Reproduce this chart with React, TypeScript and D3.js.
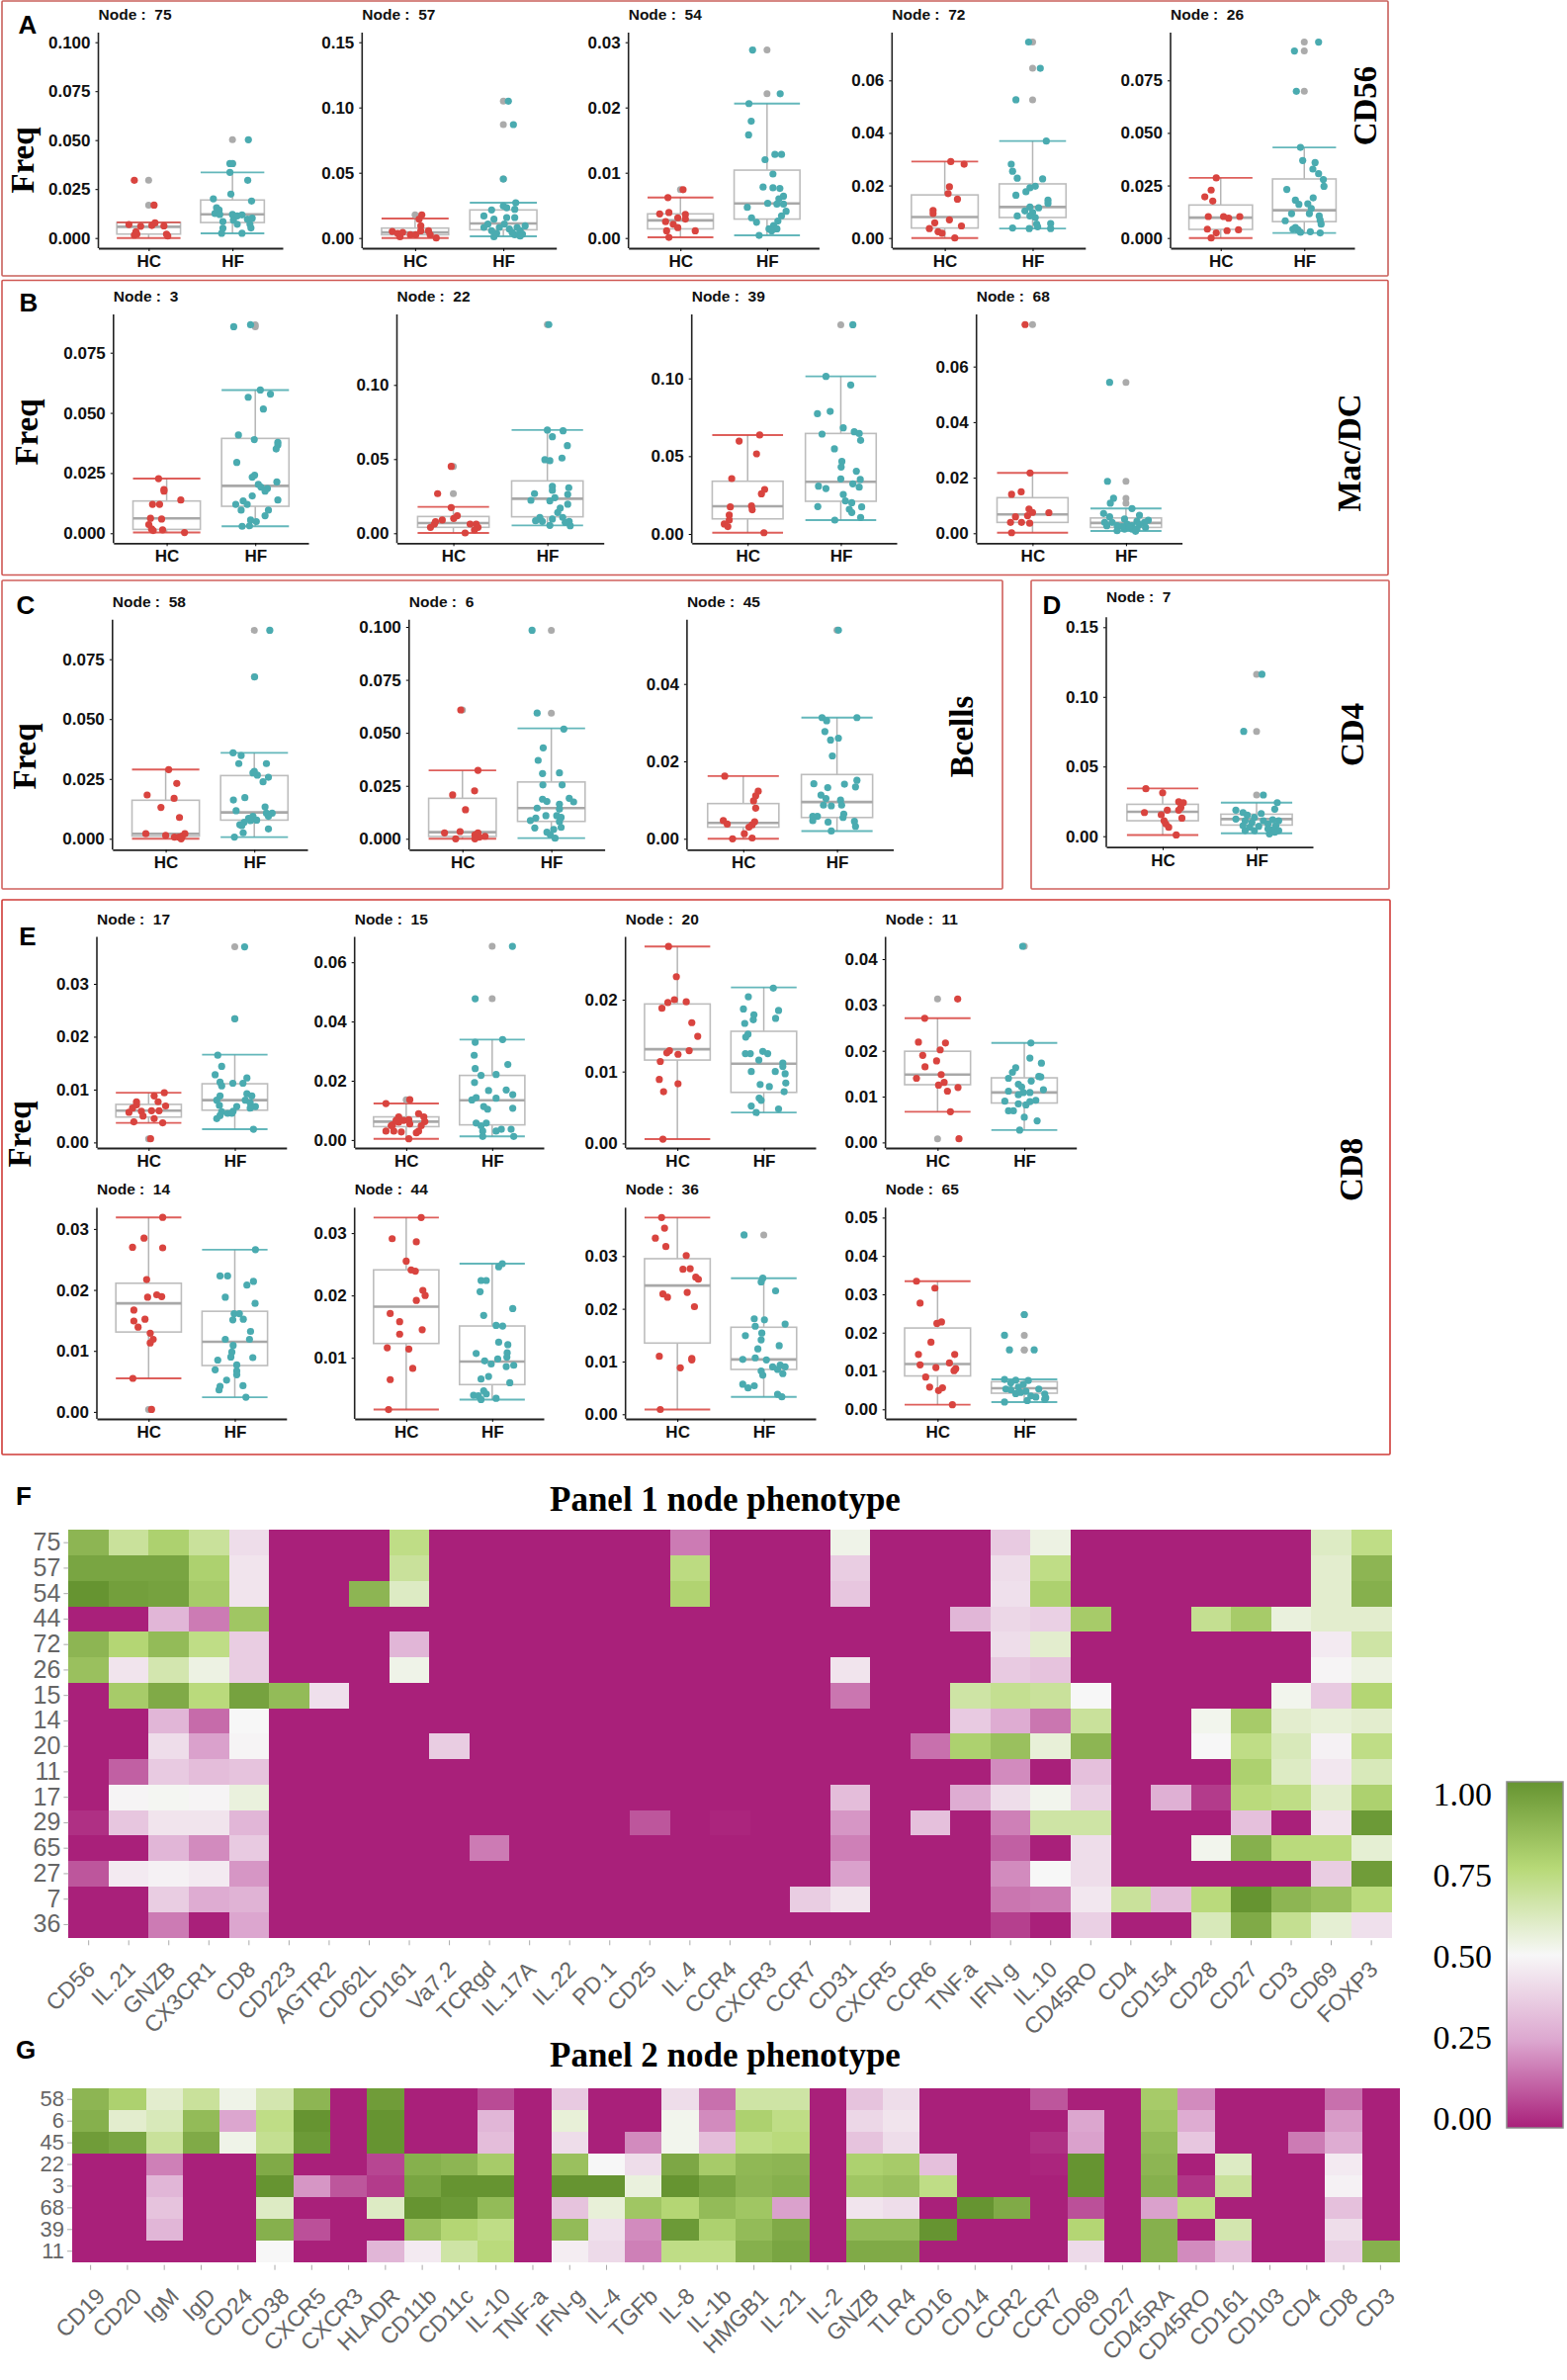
import { useEffect, useRef } from 'react';
import * as d3 from 'd3';

type Pt = [number, number]; // [jitter, freq]

const groups = ['HC', 'HF'];

// box stats are [lower whisker, q1, median, q3, upper whisker]
const n75Box = [[0, .002, .0057, .0079, .008], [.0024, .0079, .0121, .0194, .0335]];
const n75HC: Pt[] = [[-.45,.0295],[.17,.0168],[-.62,.0069],[-.25,.006],[.1,.0064],[.2,.0077],[.48,.0062],[-.4,.0032],[-.45,.0015],[.56,.002],[.6,.001],[-.37,.002]];
const n75HF: Pt[] = [[.5,.0502],[-.08,.038],[0,.038],[-.08,.0335],[.48,.0295],[-.05,.0224],[-.6,.02],[.6,.0189],[-.5,.0155],[-.42,.0143],[-.55,.0125],[-.4,.012],[0,.012],[.15,.0113],[.3,.0118],[.03,.0091],[.47,.0096],[.62,.0101],[.58,.0051],[-.3,.0084],[-.3,.005],[-.34,.0024],[.3,.0024],[.55,.0071],[.15,.007]];

const n57Box = [[0, .0025, .0043, .0076, .0149], [.0013, .0063, .0111, .0215, .027]];
const n57HC: Pt[] = [[.2,.0177],[.12,.0144],[.17,.0093],[-.68,.005],[-.52,.0035],[-.45,.001],[-.37,.0043],[-.14,.0025],[.02,.0025],[.17,.0055],[.4,.0055],[.45,.0025],[.63,0]];
const n57HF: Pt[] = [[.15,.1048],[.3,.0869],[0,.0452],[.37,.027],[0,.0245],[.1,.0232],[-.35,.0215],[-.58,.0169],[.34,.022],[.1,.0157],[.34,.0157],[-.28,.0144],[-.46,.0106],[-.58,.0081],[.03,.0106],[.65,.0093],[.41,.0081],[-.12,.0081],[.18,.0068],[-.35,.0056],[.5,.0056],[.57,.003],[-.2,.0035],[-.28,.001],[.34,.0025],[.5,.0015],[.26,.0043]];

const n54Box = [[.0001, .0014, .0027, .0037, .0062], [.0004, .0029, .0053, .0104, .0206]];
const n54HC: Pt[] = [[.08,.0074],[-.38,.0062],[-.63,.0037],[-.35,.0039],[.15,.0036],[-.08,.0031],[-.45,.0025],[.15,.0029],[-.22,.0021],[-.08,.0016],[.45,.0011],[-.42,.0011],[-.35,.0001]];
const n54HF: Pt[] = [[-.44,.0288],[.4,.0221],[-.55,.0206],[-.48,.0179],[-.56,.0158],[-.06,.012],[.24,.0128],[.44,.0128],[.18,.0098],[-.12,.0078],[.18,.0077],[.39,.0076],[-.6,.0047],[.5,.0064],[.36,.006],[.02,.0053],[.3,.0052],[.5,.0052],[.58,.0041],[.44,.0034],[-.47,.0031],[-.32,.0024],[.33,.0026],[.2,.0019],[.06,.0014],[.3,.0014],[-.24,.0004],[.14,.0011]];

const n72Box = [[0, .0038, .008, .0164, .0291], [.0036, .0078, .0118, .0206, .0369]];
const n72HC: Pt[] = [[.18,.0291],[.58,.0281],[.14,.0195],[.1,.0169],[.38,.0148],[-.35,.0105],[-.35,.0093],[.14,.0069],[-.3,.0058],[.5,.0046],[-.46,.0036],[-.2,.0024],[-.08,.0018],[.3,0]];
const n72HF: Pt[] = [[-.12,.0746],[.23,.0646],[-.5,.0526],[.41,.0369],[-.64,.0281],[-.6,.0254],[-.46,.0228],[.3,.0225],[.08,.0197],[-.08,.0191],[-.2,.0176],[-.5,.0163],[.46,.0144],[.46,.0132],[.18,.0115],[-.08,.0118],[-.23,.0103],[0,.0097],[-.46,.0084],[-.08,.0084],[.08,.0078],[.12,.0053],[.54,.0055],[.54,.0036],[-.6,.0038],[-.1,.0036],[.15,.0043]];

const n26Box = [[0, .0041, .0097, .0157, .0286], [.0024, .0078, .0132, .0281, .0431]];
const n26HC: Pt[] = [[-.14,.0286],[-.3,.0228],[-.5,.0196],[-.25,.0176],[-.39,.0102],[.09,.0102],[.25,.0094],[.6,.0102],[-.42,.0042],[.2,.0035],[.56,.0039],[-.14,.0024],[-.3,0]];
const n26HF: Pt[] = [[.45,.0932],[-.31,.089],[-.25,.0698],[-.12,.0431],[-.05,.0369],[.34,.0359],[.27,.0328],[.45,.0306],[.6,.0278],[.62,.0246],[-.55,.0231],[.28,.0191],[-.28,.018],[-.17,.016],[.11,.0163],[.22,.0141],[-.4,.0116],[.16,.0116],[.47,.0105],[-.6,.0082],[.5,.0085],[.53,.0066],[-.28,.005],[-.2,.0039],[-.36,.0042],[-.12,.0027],[.19,.003],[.5,.0024]];

const n3Box = [[.0003, .0016, .0062, .0134, .0227], [.0029, .0112, .0197, .0394, .0595]];
const n3HC: Pt[] = [[-.24,.0227],[-.08,.0182],[-.08,.0175],[.42,.0138],[-.42,.012],[-.21,.012],[-.48,.0062],[-.15,.0059],[-.53,.0036],[-.45,.0018],[-.12,.0014],[.53,.0003],[-.4,.0011]];
const n3HF: Pt[] = [[-.64,.0858],[-.14,.0866],[.15,.0595],[.45,.0578],[-.21,.0565],[.24,.0516],[-.5,.0408],[-.03,.0389],[.67,.0378],[.67,.0367],[.62,.035],[-.55,.0294],[-.02,.0241],[-.09,.0233],[.64,.0213],[.09,.0203],[.17,.0192],[.36,.0186],[.29,.0175],[-.09,.0155],[.67,.0138],[-.36,.0134],[-.58,.012],[-.24,.012],[-.42,.0096],[.39,.0096],[.29,.0073],[-.14,.0055],[.03,.0048],[-.39,.0029],[-.17,.0031]];

const n22Box = [[.0002, .004, .0069, .0113, .0178], [.0053, .0111, .0233, .0353, .0696]];
const n22HC: Pt[] = [[-.06,.0451],[-.44,.0267],[-.06,.0173],[.11,.0118],[.01,.01],[-.31,.0089],[-.5,.0078],[-.64,.004],[.47,.0062],[.64,.0062],[.69,.004],[.59,.0022],[.33,.0002],[-.53,.0062]];
const n22HF: Pt[] = [[.04,.1407],[0,.0696],[.44,.0691],[.14,.0651],[.56,.0591],[-.07,.0496],[.07,.0489],[.41,.0507],[.14,.0316],[.14,.0289],[.6,.0307],[-.36,.0267],[.57,.0262],[.21,.024],[-.46,.0222],[.07,.0218],[.57,.0196],[.36,.0169],[.29,.014],[-.21,.0107],[.14,.0096],[.43,.0107],[-.33,.0084],[-.14,.008],[.61,.008],[.07,.0053],[.64,.0051],[.5,.0073]];

const n39Box = [[.0008, .0097, .0178, .0339, .0636], [.0089, .021, .0335, .0646, .1013]];
const n39HC: Pt[] = [[.34,.0636],[-.24,.0597],[.25,.0515],[-.45,.0356],[.48,.0286],[.39,.0258],[-.49,.0174],[.11,.018],[.13,.0155],[-.52,.0121],[-.52,.0089],[-.66,.0064],[-.56,.0047],[.46,.0008]];
const n39HF: Pt[] = [[.34,.1345],[-.42,.1013],[.28,.0958],[-.3,.0788],[-.66,.0773],[.07,.0682],[.38,.0657],[.52,.0646],[-.53,.0642],[.56,.0602],[-.18,.0547],[.03,.0466],[.01,.043],[.44,.0403],[0,.0354],[.55,.035],[.34,.0322],[-.63,.0307],[-.42,.0292],[.52,.0301],[.07,.0254],[.13,.0212],[.31,.0201],[-.65,.0176],[.59,.0174],[.24,.0159],[.31,.0138],[.56,.0106],[-.17,.0089]];

const n68Box = [[.0002, .0039, .0068, .0128, .0217], [.0008, .0021, .0037, .0055, .0089]];
const n68HC: Pt[] = [[-.21,.0751],[-.07,.0217],[-.32,.0149],[-.59,.014],[-.1,.0087],[0,.0075],[.46,.0074],[-.14,.0063],[-.48,.0059],[-.62,.0039],[-.31,.0039],[-.08,.0036],[-.59,.0002]];
const n68HF: Pt[] = [[-.46,.0543],[-.52,.0187],[-.35,.0126],[-.44,.0108],[.17,.0089],[-.63,.0071],[.38,.0065],[-.46,.0059],[-.04,.0051],[.63,.0047],[-.6,.0039],[-.39,.0039],[.31,.0043],[.52,.0039],[-.54,.0027],[-.25,.0027],[.03,.0033],[.17,.0027],[.38,.0031],[.55,.0021],[-.25,.0009],[-.04,.0015],[.17,.0015],[.27,.0007],[-.11,.0024],[.31,.0015],[.1,.0021]];

const n58Box = [[0, .0011, .0021, .0161, .0289], [.0007, .0078, .011, .0264, .0359]];
const n58HC: Pt[] = [[.09,.0289],[.33,.0231],[-.55,.0183],[.25,.0169],[-.14,.0131],[.41,.0089],[-.59,.0021],[0,.0014],[.57,.0021],[.26,.0007],[.39,.0007],[.49,.0011],[.46,0]];
const n58HF: Pt[] = [[.46,.0871],[.01,.0676],[-.63,.0359],[-.39,.0348],[-.46,.0314],[.36,.0314],[-.04,.0275],[.09,.0266],[0,.0282],[.42,.0257],[.26,.0238],[-.62,.0162],[-.28,.0172],[.32,.0133],[-.54,.0117],[.36,.0107],[.53,.0107],[.42,.0094],[-.04,.0094],[-.17,.0085],[.07,.0078],[-.11,.0076],[-.3,.0069],[-.43,.0059],[.42,.0041],[-.33,.0025],[-.59,.0007],[-.37,.0055]];

const n6Box = [[0, .0011, .0031, .0191, .0323], [.0003, .0082, .0145, .0268, .0521]];
const n6HC: Pt[] = [[-.05,.0608],[.46,.0323],[.36,.0226],[-.29,.0207],[.09,.0137],[-.53,.0028],[-.07,.0034],[.46,.0028],[.37,.0019],[.67,.0012],[-.2,0],[.5,.0008],[.37,0]];
const n6HF: Pt[] = [[-.57,.0984],[-.42,.0593],[.37,.0518],[-.24,.0429],[-.39,.037],[-.26,.0308],[.24,.0311],[-.25,.0254],[.32,.0254],[-.26,.0187],[-.13,.0176],[.53,.0191],[.66,.0174],[.24,.0163],[-.42,.0145],[.24,.014],[-.16,.0109],[-.46,.0098],[-.62,.0086],[.16,.0109],[.29,.0101],[.24,.0081],[.29,.0054],[-.49,.0051],[.07,.0044],[-.13,.0031],[-.03,.0019],[.11,.0003]];

const n45Box = [[0, .003, .0041, .0091, .0162], [.002, .0055, .0095, .0166, .0313]];
const n45HC: Pt[] = [[-.52,.0162],[.42,.0123],[.35,.0111],[.29,.0098],[.35,.0079],[-.56,.0047],[-.45,.0038],[.32,.0044],[.25,.0036],[.16,.003],[.03,.0013],[-.3,0],[.25,.0002]];
const n45HF: Pt[] = [[.04,.0539],[-.42,.0313],[.56,.0313],[-.29,.0305],[-.34,.0277],[.04,.026],[-.18,.0255],[-.13,.0214],[.56,.0151],[-.65,.0142],[.21,.0141],[.52,.0134],[-.26,.0132],[-.45,.0113],[-.31,.0104],[.1,.01],[-.38,.0087],[-.16,.0085],[.13,.0087],[.19,.0064],[-.55,.0058],[-.68,.0058],[.17,.0055],[-.68,.0047],[-.25,.0043],[.49,.0045],[.52,.0032],[-.16,.002]];

const n7Box = [[.0009, .0111, .0175, .0229, .0343], [.0021, .008, .0123, .0158, .0241]];
const n7HC: Pt[] = [[-.47,.0341],[0,.0312],[.45,.0248],[.58,.0241],[.51,.0206],[.45,.0187],[.13,.0187],[-.51,.017],[-.04,.0154],[.54,.013],[.04,.0111],[.09,.0088],[.17,.0064],[.38,.0009]];
const n7HF: Pt[] = [[.15,.1162],[-.36,.0752],[.19,.0296],[.58,.0241],[.51,.0194],[-.58,.0187],[-.38,.017],[.13,.0163],[-.26,.0151],[-.58,.0123],[-.06,.0135],[-.32,.0111],[-.13,.0099],[.19,.0111],[.45,.0118],[.62,.0111],[.32,.0088],[-.38,.0076],[.06,.0071],[.54,.0076],[-.32,.004],[-.06,.004],[.45,.0047],[.62,.004],[.36,.0017],[.51,.0028],[.32,.0052],[-.19,.0064]];

const n17Box = [[.0037, .0048, .006, .0072, .0094], [.0025, .0061, .008, .0111, .0166]];
const n17HC: Pt[] = [[.48,.0094],[.17,.0088],[-.37,.0077],[.29,.0077],[.52,.0069],[-.49,.0065],[-.6,.0057],[-.22,.0059],[.09,.006],[.32,.006],[-.37,.0071],[-.17,.005],[.17,.0045],[-.45,.0039],[.43,.0037],[.06,.0007]];
const n17HF: Pt[] = [[.3,.037],[0,.0234],[-.52,.0165],[-.4,.0144],[-.6,.0128],[.37,.0122],[-.45,.0114],[-.06,.0112],[.25,.0112],[-.4,.0107],[.37,.0092],[-.45,.0088],[.52,.0088],[-.55,.008],[.32,.008],[.47,.0075],[-.47,.007],[.06,.0068],[.63,.0068],[.47,.0065],[-.05,.0059],[-.4,.0058],[-.22,.0055],[-.09,.0055],[-.55,.0045],[-.45,.0051],[.57,.0025]];

const n15Box = [[.0004, .0045, .0062, .0078, .0123], [.0012, .0051, .0134, .0218, .0339]];
const n15HC: Pt[] = [[.11,.0136],[-.62,.0123],[.38,.0089],[-.23,.0078],[.54,.0078],[.08,.0069],[-.08,.0066],[-.23,.006],[.57,.0062],[-.42,.0051],[.11,.0054],[.46,.0048],[-.62,.003],[-.15,.0027],[.31,.0024],[.08,.0004],[-.46,.0048],[-.38,.003],[-.31,.0066],[.38,.003]];
const n15HF: Pt[] = [[.62,.0654],[-.52,.0477],[.32,.0339],[-.52,.033],[-.55,.0286],[.48,.0255],[-.52,.0241],[-.34,.0218],[.12,.0221],[-.54,.0194],[-.11,.0167],[.43,.0169],[.63,.0153],[-.49,.0143],[.12,.0141],[-.62,.0135],[-.26,.0113],[-.14,.0104],[.63,.0107],[-.49,.0057],[-.18,.0057],[-.34,.0048],[.58,.0036],[.12,.003],[-.29,.003],[.28,.0036],[-.29,.0012],[.66,.0012]];

const n20Box = [[.0006, .0116, .0131, .0194, .0274], [.0043, .0071, .0111, .0156, .0217]];
const n20HC: Pt[] = [[-.27,.0274],[-.03,.0232],[-.09,.02],[.27,.0197],[-.29,.0196],[-.47,.0188],[.44,.0168],[.62,.0149],[-.24,.0129],[-.32,.0126],[.36,.0129],[.02,.0124],[-.52,.0114],[-.55,.0089],[.02,.0083],[-.42,.0072],[-.44,.0006]];
const n20HF: Pt[] = [[.29,.0216],[-.47,.0204],[-.62,.0187],[.45,.0185],[-.3,.0179],[-.32,.0172],[.36,.0174],[-.58,.0167],[-.48,.0152],[-.55,.0148],[-.56,.0125],[-.41,.0125],[-.03,.0128],[.12,.0125],[-.15,.0116],[.58,.0112],[.58,.0107],[-.38,.01],[.35,.01],[.65,.0097],[-.11,.0082],[.17,.0079],[.67,.0084],[.62,.0072],[-.14,.0063],[-.08,.006],[-.38,.0052],[.45,.0048],[-.23,.0043]];

const n11Box = [[.0067, .0126, .0148, .0199, .0271], [.0027, .0086, .0109, .0141, .0217]];
const n11HC: Pt[] = [[.61,.0313],[-.39,.0271],[-.58,.0219],[.24,.0217],[.08,.0202],[-.45,.019],[-.03,.0178],[-.38,.0165],[.11,.0148],[-.64,.014],[.2,.0131],[.03,.0125],[.62,.012],[.3,.0112],[.39,.0067],[.65,.0008]];
const n11HF: Pt[] = [[-.05,.0428],[.2,.0217],[.17,.0184],[.52,.0173],[-.26,.0163],[-.36,.0153],[-.48,.014],[.44,.0144],[.5,.0143],[.21,.0134],[-.18,.0127],[-.08,.0121],[-.48,.0112],[.58,.0115],[-.03,.0109],[.17,.0109],[-.18,.0104],[.35,.0092],[-.59,.009],[.17,.0089],[-.18,.0084],[.05,.0082],[-.48,.0069],[-.33,.0069],[0,.0055],[.39,.0047],[-.14,.0027]];

const n14Box = [[.0055, .0131, .0178, .0211, .0319], [.0024, .0076, .0115, .0165, .0266]];
const n14HC: Pt[] = [[.43,.0319],[-.14,.0285],[-.49,.027],[.43,.0269],[-.06,.0217],[.25,.0192],[.4,.0189],[-.03,.0188],[-.45,.0167],[-.45,.0149],[-.11,.0152],[-.32,.0139],[.05,.0129],[.14,.0119],[.05,.0113],[-.48,.0055],[.09,.0004]];
const n14HF: Pt[] = [[.63,.0266],[-.45,.0223],[-.22,.0223],[.57,.0214],[.37,.0208],[-.29,.0188],[.62,.0178],[-.02,.0161],[.14,.0161],[-.06,.0151],[.26,.0152],[.48,.0132],[-.29,.0119],[.45,.0119],[-.05,.0109],[-.09,.0098],[-.12,.009],[.55,.0089],[-.52,.0085],[.06,.0077],[-.6,.0069],[.06,.0067],[.06,.0061],[-.25,.0052],[-.45,.0042],[-.48,.0036],[.25,.0043],[.34,.0024]];

const n44Box = [[.0017, .0123, .0182, .0241, .0325], [.0033, .0057, .0094, .0151, .0251]];
const n44HC: Pt[] = [[.46,.0325],[-.43,.0291],[.31,.0286],[0,.0255],[.15,.0241],[.28,.0239],[.51,.0208],[.58,.02],[.31,.0192],[-.49,.0171],[-.2,.0158],[.49,.0145],[-.2,.0138],[-.58,.0116],[.08,.0114],[.2,.0083],[-.49,.0065],[-.54,.0017]];
const n44HF: Pt[] = [[.31,.0251],[.2,.0246],[-.34,.0224],[-.18,.0224],[-.37,.0206],[.63,.0179],[-.26,.0168],[.12,.0152],[.32,.0151],[.2,.0125],[.48,.0121],[.46,.0108],[-.49,.0107],[.45,.0101],[-.23,.0095],[.17,.0098],[-.03,.009],[.66,.0088],[.43,.0086],[-.11,.007],[-.34,.0066],[.54,.006],[-.26,.0047],[-.57,.004],[-.42,.0039],[-.18,.0042],[.12,.0035],[-.34,.0033]];

const n36Box = [[.0009, .0135, .0244, .0295, .0373], [.0033, .0085, .0104, .0165, .0258]];
const n36HC: Pt[] = [[-.48,.0373],[-.39,.0353],[-.67,.0334],[-.35,.0318],[.27,.0301],[.17,.0275],[.39,.0276],[.56,.026],[.64,.0256],[-.44,.0228],[-.3,.0222],[.3,.0231],[.52,.0204],[-.55,.011],[.44,.0106],[.44,.0103],[.09,.0088],[-.52,.0009]];
const n36HF: Pt[] = [[-.6,.034],[-.03,.0258],[-.08,.0251],[.36,.0234],[-.29,.0181],[.02,.0179],[.65,.0171],[-.26,.0167],[-.06,.0154],[-.56,.0149],[-.08,.0141],[.47,.013],[-.18,.0124],[-.64,.0104],[-.26,.0107],[.08,.0103],[.5,.0093],[.65,.009],[.27,.009],[.42,.0085],[-.08,.0082],[.58,.0077],[-.03,.0074],[-.64,.0057],[-.48,.005],[-.29,.0054],[.42,.0038],[.55,.0033]];

const n65Box = [[.0012, .0087, .0118, .0212, .0334], [.0019, .0042, .0055, .0072, .0078]];
const n65HC: Pt[] = [[-.64,.0334],[-.08,.0316],[-.53,.0277],[.12,.0228],[-.02,.0224],[-.2,.0175],[-.58,.0143],[.52,.0143],[-.53,.0116],[.36,.0121],[-.05,.0109],[.55,.0106],[.5,.0101],[-.36,.0084],[-.24,.0058],[.15,.0056],[.03,.0049],[.45,.0012]];
const n65HF: Pt[] = [[0,.0247],[-.6,.0193],[-.45,.0155],[.3,.0155],[-.6,.0078],[-.26,.0076],[.12,.0075],[-.41,.0069],[-.03,.0065],[-.56,.0053],[-.18,.0058],[.44,.0053],[-.41,.0051],[.05,.0047],[-.26,.0041],[-.11,.0044],[.2,.0035],[.62,.004],[.65,.003],[.35,.0032],[.62,.0026],[.09,.0023],[-.6,.0019]];

const ticksA75 = [0, .025, .05, .075, .1];
const ticks05 = [0, .05, .1];
const ticks015 = [0, .05, .1, .15];
const ticks03 = [0, .01, .02, .03];
const ticks06 = [0, .02, .04, .06];
const ticks075 = [0, .025, .05, .075];

// axis geometry for each small plot, data comes from the arrays above
const boxPlots = [
  { node: 75, box: n75Box, hc: n75HC, hf: n75HF, ticks: ticksA75, fmt: '.3f', ax: 99.5, end: 286, top: 33, bottom: 251, y0: 240.7, yRef: 42.7 },
  { node: 57, box: n57Box, hc: n57HC, hf: n57HF, ticks: ticks015, fmt: '.2f', ax: 366.3, end: 562.7, top: 33, bottom: 251, y0: 240.7, yRef: 42.7 },
  { node: 54, box: n54Box, hc: n54HC, hf: n54HF, ticks: ticks03, fmt: '.2f', ax: 635.7, end: 828.4, top: 33, bottom: 251, y0: 240.7, yRef: 42.7 },
  { node: 72, box: n72Box, hc: n72HC, hf: n72HF, ticks: ticks06, fmt: '.2f', ax: 902.3, end: 1097.8, top: 33, bottom: 251, y0: 240.7, yRef: 81.3 },
  { node: 26, box: n26Box, hc: n26HC, hf: n26HF, ticks: ticks075, fmt: '.3f', ax: 1184, end: 1370, top: 33, bottom: 251, y0: 240.7, yRef: 81.3 },

  { node: 3, box: n3Box, hc: n3HC, hf: n3HF, ticks: ticks075, fmt: '.3f', ax: 114.8, end: 312, top: 318, bottom: 549.3, y0: 539.3, yRef: 356.7 },
  { node: 22, box: n22Box, hc: n22HC, hf: n22HF, ticks: ticks05, fmt: '.2f', ax: 401.5, end: 610.7, top: 318, bottom: 549.3, y0: 539.3, yRef: 389.3 },
  { node: 39, box: n39Box, hc: n39HC, hf: n39HF, ticks: ticks05, fmt: '.2f', ax: 699.7, end: 907, top: 318, bottom: 549.3, y0: 540, yRef: 382.7 },
  { node: 68, box: n68Box, hc: n68HC, hf: n68HF, ticks: ticks06, fmt: '.2f', ax: 987.7, end: 1195.6, top: 318, bottom: 549.3, y0: 539.3, yRef: 370.7 },

  { node: 58, box: n58Box, hc: n58HC, hf: n58HF, ticks: ticks075, fmt: '.3f', ax: 113.8, end: 311, top: 626.7, bottom: 859.3, y0: 848.3, yRef: 666.7 },
  { node: 6, box: n6Box, hc: n6HC, hf: n6HF, ticks: ticksA75, fmt: '.3f', ax: 413.8, end: 611.6, top: 626.7, bottom: 859.3, y0: 848.3, yRef: 634 },
  { node: 45, box: n45Box, hc: n45HC, hf: n45HF, ticks: [0, .02, .04], fmt: '.2f', ax: 694.9, end: 903.5, top: 626.7, bottom: 859.3, y0: 848.3, yRef: 691.7 },
  { node: 7, box: n7Box, hc: n7HC, hf: n7HF, ticks: ticks015, fmt: '.2f', ax: 1119, end: 1328, top: 624.3, bottom: 856.7, y0: 845.7, yRef: 634.3, titleY: 604 },

  { node: 17, box: n17Box, hc: n17HC, hf: n17HF, ticks: ticks03, fmt: '.2f', ax: 98, end: 289.8, top: 947.5, bottom: 1161, y0: 1155.4, yRef: 995 },
  { node: 15, box: n15Box, hc: n15HC, hf: n15HF, ticks: ticks06, fmt: '.2f', ax: 358.7, end: 550, top: 947.5, bottom: 1161, y0: 1152.9, yRef: 973.2 },
  { node: 20, box: n20Box, hc: n20HC, hf: n20HF, ticks: [0, .01, .02], fmt: '.2f', ax: 632.7, end: 825, top: 947.5, bottom: 1161, y0: 1156.4, yRef: 1011 },
  { node: 11, box: n11Box, hc: n11HC, hf: n11HF, ticks: [0, .01, .02, .03, .04], fmt: '.2f', ax: 895.7, end: 1088.7, top: 947.5, bottom: 1161, y0: 1155.4, yRef: 970 },
  { node: 14, box: n14Box, hc: n14HC, hf: n14HF, ticks: ticks03, fmt: '.2f', ax: 98, end: 289.8, top: 1221.4, bottom: 1435, y0: 1427.9, yRef: 1242.9 },
  { node: 44, box: n44Box, hc: n44HC, hf: n44HF, ticks: [.01, .02, .03], fmt: '.2f', ax: 358.7, end: 550, top: 1221.4, bottom: 1435, y0: 1373.2, yRef: 1247.1, base: .01 },
  { node: 36, box: n36Box, hc: n36HC, hf: n36HF, ticks: ticks03, fmt: '.2f', ax: 632.7, end: 825, top: 1221.4, bottom: 1435, y0: 1430.3, yRef: 1270.3 },
  { node: 65, box: n65Box, hc: n65HC, hf: n65HF, ticks: [0, .01, .02, .03, .04, .05], fmt: '.2f', ax: 895.7, end: 1088.7, top: 1221.4, bottom: 1435, y0: 1425.3, yRef: 1231.4 },
];

const panel1Markers = ['CD56', 'IL.21', 'GNZB', 'CX3CR1', 'CD8', 'CD223', 'AGTR2', 'CD62L', 'CD161', 'Va7.2', 'TCRgd', 'IL.17A', 'IL.22', 'PD.1', 'CD25', 'IL.4', 'CCR4', 'CXCR3', 'CCR7', 'CD31', 'CXCR5', 'CCR6', 'TNF.a', 'IFN.g', 'IL.10', 'CD45RO', 'CD4', 'CD154', 'CD28', 'CD27', 'CD3', 'CD69', 'FOXP3'];
const panel1Nodes = ['75', '57', '54', '44', '72', '26', '15', '14', '20', '11', '17', '29', '65', '27', '7', '36'];
// marker index -> scaled value, anything not listed is 0
const panel1Values: Record<number, number>[] = [
  { 0: .88, 1: .68, 2: .78, 3: .68, 4: .42, 8: .72, 15: .17, 19: .53, 23: .36, 24: .54, 31: .6, 32: .72 },
  { 0: .94, 1: .94, 2: .94, 3: .78, 4: .44, 8: .68, 15: .73, 19: .37, 23: .42, 24: .72, 31: .58, 32: .88 },
  { 0: 1, 1: .96, 2: .95, 3: .8, 4: .44, 7: .88, 8: .6, 15: .77, 19: .35, 23: .43, 24: .78, 31: .58, 32: .9 },
  { 2: .3, 3: .17, 4: .82, 22: .3, 23: .4, 24: .38, 25: .8, 28: .7, 29: .8, 30: .55, 31: .58, 32: .58 },
  { 0: .88, 1: .76, 2: .86, 3: .72, 4: .37, 8: .3, 23: .42, 24: .58, 31: .46, 32: .66 },
  { 0: .84, 1: .44, 2: .64, 3: .54, 4: .37, 8: .53, 19: .44, 23: .36, 24: .34, 31: .49, 32: .54 },
  { 1: .8, 2: .92, 3: .74, 4: .95, 5: .86, 6: .43, 19: .16, 22: .66, 23: .7, 24: .68, 25: .5, 30: .52, 31: .36, 32: .76 },
  { 2: .3, 3: .14, 4: .5, 22: .36, 23: .27, 24: .16, 25: .68, 28: .52, 29: .8, 30: .58, 31: .56, 32: .58 },
  { 2: .42, 3: .24, 4: .49, 9: .37, 21: .15, 22: .78, 23: .84, 24: .56, 25: .88, 28: .5, 29: .72, 30: .62, 31: .48, 32: .72 },
  { 1: .12, 2: .36, 3: .32, 4: .34, 23: .2, 25: .33, 29: .78, 30: .6, 31: .45, 32: .62 },
  { 1: .49, 2: .51, 3: .49, 4: .55, 19: .32, 22: .27, 23: .42, 24: .52, 25: .38, 27: .28, 28: .05, 29: .74, 30: .72, 31: .58, 32: .78 },
  { 0: .03, 1: .35, 2: .44, 3: .44, 4: .3, 14: .1, 16: .01, 19: .22, 21: .33, 23: .18, 24: .66, 25: .66, 29: .33, 31: .44, 32: .98 },
  { 2: .3, 3: .2, 4: .36, 10: .17, 19: .18, 23: .12, 25: .42, 28: .52, 29: .9, 30: .74, 31: .74, 32: .57 },
  { 0: .1, 1: .46, 2: .48, 3: .46, 4: .22, 19: .24, 23: .2, 24: .5, 25: .42, 31: .37, 32: .97 },
  { 2: .37, 3: .27, 4: .29, 18: .37, 19: .44, 23: .16, 24: .17, 25: .45, 26: .68, 27: .32, 28: .74, 29: 1, 30: .88, 31: .84, 32: .74 },
  { 2: .17, 4: .25, 23: .06, 25: .38, 28: .62, 29: .92, 30: .7, 31: .57, 32: .43 },
];

const panel2Markers = ['CD19', 'CD20', 'IgM', 'IgD', 'CD24', 'CD38', 'CXCR5', 'CXCR3', 'HLADR', 'CD11b', 'CD11c', 'IL-10', 'TNF-a', 'IFN-g', 'IL-4', 'TGFb', 'IL-8', 'IL-1b', 'HMGB1', 'IL-21', 'IL-2', 'GNZB', 'TLR4', 'CD16', 'CD14', 'CCR2', 'CCR7', 'CD69', 'CD27', 'CD45RA', 'CD45RO', 'CD161', 'CD103', 'CD4', 'CD8', 'CD3'];
const panel2Nodes = ['58', '6', '45', '22', '3', '68', '39', '11'];
const panel2Values = [
  [.88, .78, .58, .68, .53, .64, .88, 0, .97, 0, 0, .08, 0, .36, 0, 0, .42, .15, .66, .66, 0, .34, .42, 0, 0, 0, .1, 0, 0, .8, .2, 0, 0, 0, .15, 0],
  [.9, .58, .62, .86, .25, .72, 1, 0, 1, 0, 0, .3, 0, .56, 0, 0, .52, .2, .78, .72, 0, .4, .44, 0, 0, 0, 0, .25, 0, .82, .27, 0, 0, 0, .23, 0],
  [.97, .94, .68, .92, .53, .7, .98, 0, 1, 0, 0, .32, 0, .42, 0, .2, .52, .32, .72, .74, 0, .34, .42, 0, 0, 0, .03, .24, 0, .86, .35, 0, 0, .17, .27, 0],
  [0, 0, .18, 0, 0, .92, 0, 0, .07, .9, .88, .8, 0, .84, .5, .42, .93, .8, .87, .88, 0, .78, .8, .33, 0, 0, .01, 1, 0, .88, 0, .6, 0, 0, .46, 0],
  [0, 0, .3, 0, 0, 1, .22, .1, .05, .94, 1, 1, 0, 1, 1, .55, 1, .94, .88, .9, 0, .82, .84, .72, 0, 0, 0, 1, 0, .9, .04, .68, 0, 0, .48, 0],
  [0, 0, .34, 0, 0, .6, 0, 0, .6, 1, .98, .86, 0, .34, .56, .82, .76, .86, .82, .24, 0, .44, .42, 0, 1, .92, 0, .09, 0, .24, .72, 0, 0, 0, .33, 0],
  [0, 0, .3, 0, 0, .9, .09, 0, 0, .84, .76, .72, 0, .86, .43, .2, .98, .78, .86, .92, 0, .86, .86, 1, 0, 0, 0, .76, 0, .9, 0, .64, 0, 0, .42, 0],
  [0, 0, 0, 0, 0, .5, 0, 0, .3, .46, .66, .74, 0, .47, .41, .18, .72, .72, .9, .94, 0, .92, .92, 0, 0, 0, 0, .41, 0, .9, .2, .32, 0, 0, .38, .9],
];

const legendTicks = [0, .25, .5, .75, 1];
const legendStops = [0, .125, .25, .375, .5, .625, .75, .875, 1];

const SANS = '"Liberation Sans", Arial, sans-serif';
const SERIF = '"Liberation Serif", "Times New Roman", serif';
const RED = '#d9443f';
const TEAL = '#4aabb0';

const phenoColor = d3
  .scaleLinear<string>()
  .domain([0, .25, .5, .75, 1])
  .range(['#a9207a', '#dca6cf', '#f7f7f7', '#b7d977', '#669431']);

type G = d3.Selection<SVGGElement, unknown, null, undefined>;

function drawBoxPlot(root: G, p: (typeof boxPlots)[number]) {
  const g = root.append('g');
  const x = d3.scalePoint().domain(groups).range([p.ax, p.end]).padding(0.6);
  const base = p.base ?? 0;
  // y0 / yRef are the pixel rows of the lowest and highest tick
  const y = d3.scaleLinear().domain([base, d3.max(p.ticks) as number]).range([p.y0, p.yRef]);
  const halfW = x.step() * 0.38;
  const outlierGap = (y.invert(p.top) - base) * 0.012;

  groups.forEach((name, gi) => {
    const cx = x(name) as number;
    const [lo, q1, med, q3, hi] = p.box[gi];
    const color = gi === 0 ? RED : TEAL;
    const pts = gi === 0 ? p.hc : p.hf;

    g.append('line').attr('x1', cx).attr('x2', cx).attr('y1', y(hi)).attr('y2', y(q3)).attr('stroke', '#b5b5b5').attr('stroke-width', 1.5);
    g.append('line').attr('x1', cx).attr('x2', cx).attr('y1', y(q1)).attr('y2', y(lo)).attr('stroke', '#b5b5b5').attr('stroke-width', 1.5);
    g.append('rect')
      .attr('x', cx - halfW)
      .attr('width', halfW * 2)
      .attr('y', y(q3))
      .attr('height', y(q1) - y(q3))
      .attr('fill', 'none')
      .attr('stroke', '#bdbdbd')
      .attr('stroke-width', 1.6);
    g.append('line').attr('x1', cx - halfW).attr('x2', cx + halfW).attr('y1', y(med)).attr('y2', y(med)).attr('stroke', '#a8a8a8').attr('stroke-width', 2.6);

    for (const v of [lo, hi]) {
      g.append('line').attr('x1', cx - halfW).attr('x2', cx + halfW).attr('y1', y(v)).attr('y2', y(v)).attr('stroke', color).attr('stroke-width', 1.9).attr('opacity', 0.85);
    }

    // outliers are drawn by the box geom in grey on the centre line
    g.selectAll(null)
      .data(pts.filter((d) => d[1] > hi + outlierGap || d[1] < lo - outlierGap))
      .enter()
      .append('circle')
      .attr('cx', cx)
      .attr('cy', (d) => y(d[1]))
      .attr('r', 3.5)
      .attr('fill', '#ababab');

    g.selectAll(null)
      .data(pts)
      .enter()
      .append('circle')
      .attr('cx', (d) => cx + d[0] * halfW)
      .attr('cy', (d) => y(d[1]))
      .attr('r', 3.6)
      .attr('fill', color);
  });

  const yAxis = g
    .append('g')
    .attr('transform', `translate(${p.ax},0)`)
    .call(d3.axisLeft(y).tickValues(p.ticks).tickSize(3).tickPadding(5).tickFormat((d) => d3.format(p.fmt)(d as number)));
  yAxis.select('.domain').remove();
  yAxis.selectAll('text').attr('fill', '#111').style('font', `bold 17px ${SANS}`);

  const xAxis = g
    .append('g')
    .attr('transform', `translate(0,${p.bottom})`)
    .call(d3.axisBottom(x).tickSize(3).tickSizeOuter(0).tickPadding(4));
  xAxis.select('.domain').attr('stroke', '#222').attr('stroke-width', 1.8);
  xAxis.selectAll('text').attr('fill', '#111').style('font', `bold 17px ${SANS}`);

  g.append('line').attr('x1', p.ax).attr('x2', p.ax).attr('y1', p.top).attr('y2', p.bottom).attr('stroke', '#222').attr('stroke-width', 1.6);

  g.append('text')
    .attr('x', p.ax)
    .attr('y', (p.titleY ?? p.top - 18) + 5)
    .attr('fill', '#111')
    .style('font', `bold 15.5px ${SANS}`)
    .style('white-space', 'pre')
    .text(`Node :  ${p.node}`);
}

function drawHeatmap(
  root: G,
  markers: string[],
  nodes: string[],
  value: (r: number, c: number) => number,
  box: { left: number; right: number; top: number; bottom: number; labelDx: number; labelGap: number; rowFont: number },
) {
  const g = root.append('g');
  const x = d3.scaleBand().domain(markers).range([box.left, box.right]);
  const y = d3.scaleBand().domain(nodes).range([box.top, box.bottom]);

  const cells = g.append('g').attr('shape-rendering', 'crispEdges');
  nodes.forEach((node, r) => {
    markers.forEach((m, c) => {
      cells
        .append('rect')
        .attr('x', x(m) as number)
        .attr('y', y(node) as number)
        .attr('width', x.bandwidth() + 0.5)
        .attr('height', y.bandwidth() + 0.5)
        .attr('fill', phenoColor(value(r, c)));
    });
  });

  const yAxis = g
    .append('g')
    .attr('transform', `translate(${box.left},0)`)
    .call(d3.axisLeft(y).tickSize(5).tickSizeOuter(0).tickPadding(3));
  yAxis.select('.domain').remove();
  yAxis.selectAll('line').attr('stroke', '#aaa');
  yAxis.selectAll('text').attr('fill', '#666').style('font', `${box.rowFont}px ${SANS}`);

  const xAxis = g
    .append('g')
    .attr('transform', `translate(0,${box.bottom + 3})`)
    .call(d3.axisBottom(x).tickSize(5).tickSizeOuter(0));
  xAxis.select('.domain').remove();
  xAxis.selectAll('line').attr('stroke', '#aaa');
  xAxis
    .selectAll('text')
    .attr('fill', '#666')
    .attr('text-anchor', 'end')
    .attr('dy', 0)
    .attr('y', 0)
    .attr('transform', `translate(${box.labelDx},${box.labelGap}) rotate(-45)`)
    .style('font', `23px ${SANS}`);
}

export default function App() {
  const svgRef = useRef<SVGSVGElement>(null);

  useEffect(() => {
    if (!svgRef.current) return;
    d3.select(svgRef.current).selectAll('*').remove();
    const svg = d3.select(svgRef.current);
    const root = svg.append('g') as unknown as G;

    // panel frames
    const frames = [
      { x: 2, y: 1, w: 1402, h: 278, c: '#c9605b' },
      { x: 2, y: 283.5, w: 1402, h: 298, c: '#cf5753' },
      { x: 2, y: 587, w: 1012, h: 312, c: '#d0605c' },
      { x: 1043, y: 587, w: 362, h: 312, c: '#d0605c' },
      { x: 2, y: 910, w: 1404, h: 561, c: '#cf3b37' },
    ];
    root
      .selectAll(null)
      .data(frames)
      .enter()
      .append('rect')
      .attr('x', (d) => d.x)
      .attr('y', (d) => d.y)
      .attr('width', (d) => d.w)
      .attr('height', (d) => d.h)
      .attr('rx', 1)
      .attr('fill', 'none')
      .attr('stroke', (d) => d.c)
      .attr('stroke-width', 1.6);

    boxPlots.forEach((p) => drawBoxPlot(root, p));

    // panel letters
    const letters = [
      { t: 'A', x: 28, y: 25 },
      { t: 'B', x: 29, y: 306 },
      { t: 'C', x: 26, y: 612 },
      { t: 'D', x: 1064, y: 612 },
      { t: 'E', x: 28, y: 947 },
      { t: 'F', x: 24, y: 1513 },
      { t: 'G', x: 26, y: 2073 },
    ];
    root
      .selectAll(null)
      .data(letters)
      .enter()
      .append('text')
      .attr('x', (d) => d.x)
      .attr('y', (d) => d.y)
      .attr('text-anchor', 'middle')
      .attr('dominant-baseline', 'central')
      .attr('fill', '#000')
      .style('font', `bold 26px ${SANS}`)
      .text((d) => d.t);

    // rotated side labels
    const sideLabels = [
      { t: 'Freq', x: 23, y: 162 },
      { t: 'Freq', x: 27, y: 437 },
      { t: 'Freq', x: 25, y: 765 },
      { t: 'Freq', x: 20, y: 1147 },
      { t: 'CD56', x: 1381, y: 107 },
      { t: 'Mac/DC', x: 1365, y: 458 },
      { t: 'Bcells', x: 973, y: 745 },
      { t: 'CD4', x: 1368, y: 743 },
      { t: 'CD8', x: 1367, y: 1183 },
    ];
    root
      .selectAll(null)
      .data(sideLabels)
      .enter()
      .append('text')
      .attr('transform', (d) => `translate(${d.x},${d.y}) rotate(-90)`)
      .attr('text-anchor', 'middle')
      .attr('dominant-baseline', 'central')
      .attr('fill', '#000')
      .style('font', `bold 33px ${SERIF}`)
      .text((d) => d.t);

    // heatmap titles
    root
      .selectAll(null)
      .data([
        { t: 'Panel 1 node phenotype', y: 1516 },
        { t: 'Panel 2 node phenotype', y: 2078 },
      ])
      .enter()
      .append('text')
      .attr('x', 556)
      .attr('y', (d) => d.y)
      .attr('dominant-baseline', 'central')
      .attr('fill', '#000')
      .style('font', `bold 35px ${SERIF}`)
      .text((d) => d.t);

    drawHeatmap(root, panel1Markers, panel1Nodes, (r, c) => panel1Values[r][c] ?? 0, {
      left: 69.4,
      right: 1407.4,
      top: 1547.3,
      bottom: 1959.3,
      labelDx: 8,
      labelGap: 31,
      rowFont: 25,
    });
    drawHeatmap(root, panel2Markers, panel2Nodes, (r, c) => panel2Values[r][c], {
      left: 73,
      right: 1415,
      top: 2112.3,
      bottom: 2287.7,
      labelDx: 16,
      labelGap: 33,
      rowFont: 22,
    });

    // colour bar
    const defs = svg.append('defs');
    const grad = defs
      .append('linearGradient')
      .attr('id', 'phenoGrad')
      .attr('x1', 0)
      .attr('x2', 0)
      .attr('y1', 1)
      .attr('y2', 0);
    grad
      .selectAll('stop')
      .data(legendStops)
      .enter()
      .append('stop')
      .attr('offset', (d) => d)
      .attr('stop-color', (d) => phenoColor(d));
    root
      .append('rect')
      .attr('x', 1524)
      .attr('y', 1802)
      .attr('width', 57)
      .attr('height', 350)
      .attr('fill', 'url(#phenoGrad)')
      .attr('stroke', '#8a8a8a')
      .attr('stroke-width', 1.5);
    const legendY = d3.scaleLinear().domain([0, 1]).range([2142, 1814]);
    root
      .selectAll(null)
      .data(legendTicks)
      .enter()
      .append('text')
      .attr('x', 1509)
      .attr('y', (d) => legendY(d))
      .attr('text-anchor', 'end')
      .attr('dominant-baseline', 'central')
      .attr('fill', '#000')
      .style('font', `34px ${SERIF}`)
      .text((d) => d3.format('.2f')(d));
  }, []);

  return (
    <div style={{ position: 'absolute', left: 0, top: 0, width: 1585, height: 2407, background: '#fff' }}>
      <svg ref={svgRef} width={1585} height={2407} style={{ display: 'block' }} />
    </div>
  );
}
